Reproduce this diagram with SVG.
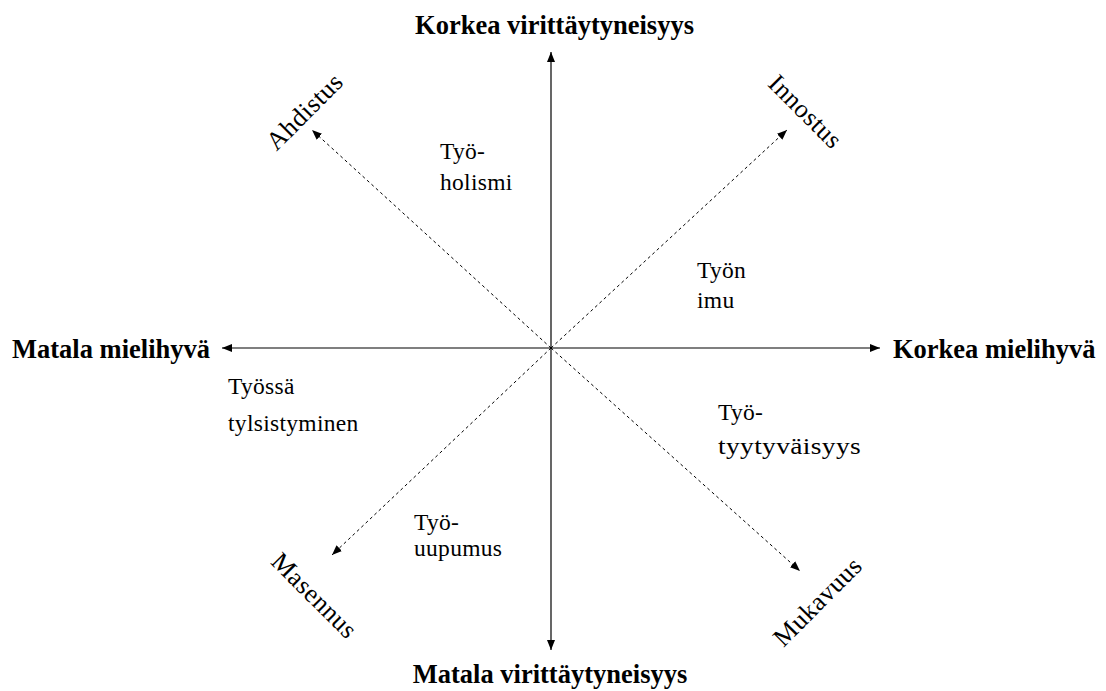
<svg xmlns="http://www.w3.org/2000/svg" width="1106" height="691" viewBox="0 0 1106 691">
<style>
.t{font-family:"Liberation Serif","Times New Roman",serif;font-size:23.5px;fill:#000;letter-spacing:0.3px}
.b{font-weight:bold;font-size:26.5px;letter-spacing:0}
.r{font-size:26px;letter-spacing:0.5px}
.ax{stroke:#000;stroke-width:1.2;fill:none}
.dg{stroke:#000;stroke-width:1;stroke-dasharray:3,3;fill:none}
</style>
<defs>
<marker id="ah" viewBox="0 0 10 10" refX="10" refY="5" markerWidth="10" markerHeight="10" markerUnits="userSpaceOnUse" orient="auto">
<path d="M0,1 L10,5 L0,9 Z" fill="#000"/>
</marker>
</defs>
<rect width="1106" height="691" fill="#fff"/>
<g id="connectors">
<line class="ax" x1="551" y1="348" x2="551" y2="52" marker-end="url(#ah)"/>
<line class="ax" x1="551" y1="348" x2="551" y2="650" marker-end="url(#ah)"/>
<line class="ax" x1="551" y1="348" x2="222" y2="348" marker-end="url(#ah)"/>
<line class="ax" x1="551" y1="348" x2="880" y2="348" marker-end="url(#ah)"/>
<line class="dg" x1="551" y1="348" x2="312" y2="130" marker-end="url(#ah)"/>
<line class="dg" x1="551" y1="348" x2="787" y2="130" marker-end="url(#ah)"/>
<line class="dg" x1="551" y1="348" x2="332" y2="555" marker-end="url(#ah)"/>
<line class="dg" x1="551" y1="348" x2="800" y2="571" marker-end="url(#ah)"/>
</g>
<g id="axis-top"><text class="t b" x="554.5" y="34" text-anchor="middle">Korkea virittäytyneisyys</text></g>
<g id="axis-bottom"><text class="t b" x="550" y="683" text-anchor="middle">Matala virittäytyneisyys</text></g>
<g id="axis-left"><text class="t b" x="12" y="358">Matala mielihyvä</text></g>
<g id="axis-right"><text class="t b" x="893" y="358">Korkea mielihyvä</text></g>
<g id="ahdistus"><text class="t r" transform="translate(305,112) rotate(-45)" text-anchor="middle" dy="8">Ahdistus</text></g>
<g id="innostus"><text class="t r" transform="translate(805,112) rotate(45)" text-anchor="middle" dy="8">Innostus</text></g>
<g id="masennus"><text class="t r" transform="translate(314,596) rotate(45)" text-anchor="middle" dy="8">Masennus</text></g>
<g id="mukavuus"><text class="t r" transform="translate(818,602) rotate(-45)" text-anchor="middle" dy="8">Mukavuus</text></g>
<g id="tyoholismi"><text class="t" x="440" y="159">Työ-</text><text class="t" x="440" y="190">holismi</text></g>
<g id="tyon-imu"><text class="t" x="697" y="278">Työn</text><text class="t" x="697" y="308">imu</text></g>
<g id="tylsistyminen"><text class="t" x="228" y="394">Työssä</text><text class="t" x="228" y="431">tylsistyminen</text></g>
<g id="tyytyvaisyys"><text class="t" x="718" y="420">Työ-</text><text class="t" x="718" y="454" textLength="143" lengthAdjust="spacingAndGlyphs">tyytyväisyys</text></g>
<g id="uupumus"><text class="t" x="414" y="530">Työ-</text><text class="t" x="414" y="556">uupumus</text></g>
</svg>
